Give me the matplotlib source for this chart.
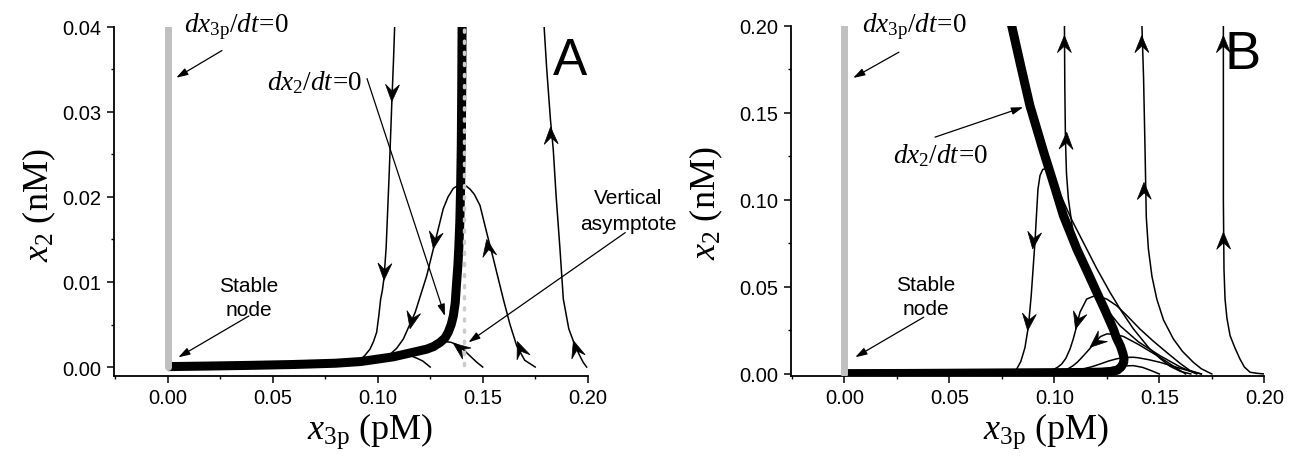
import numpy as np
import matplotlib
matplotlib.use('Agg')
import matplotlib.pyplot as plt
from matplotlib.patches import Polygon
from matplotlib.transforms import IdentityTransform
from matplotlib.ticker import MultipleLocator, FormatStrFormatter

plt.rcParams['font.family'] = ['Liberation Sans', 'DejaVu Sans']
plt.rcParams['mathtext.fontset'] = 'custom'
plt.rcParams['mathtext.rm'] = 'Liberation Serif'
plt.rcParams['mathtext.it'] = 'Liberation Serif:italic'

# ---------------- panel A data (x3p in pM, x2 in nM) ----------------
a_null_x = [0.000, 0.020, 0.040, 0.060, 0.080, 0.092, 0.1074, 0.1233, 0.1265, 0.1297, 0.1320,
            0.1336, 0.1350, 0.1360, 0.1369, 0.1376, 0.1382, 0.1386, 0.1391, 0.1395, 0.1398,
            0.1400, 0.1402]
a_null_y = [0.00005, 0.00012, 0.0002, 0.0003, 0.00045, 0.00065, 0.0012, 0.0021, 0.0024, 0.0029,
            0.0034, 0.0041, 0.0050, 0.0060, 0.0075, 0.0100, 0.0120, 0.0139, 0.0170, 0.0213,
            0.0260, 0.0320, 0.0410]
a_asym_x = 0.1411

a_traj = [
    ([0.1082, 0.1075, 0.1067, 0.1055, 0.1040, 0.1030, 0.1022, 0.1014, 0.1005, 0.0995, 0.0980,
      0.0963, 0.0940, 0.0916],
     [0.0410, 0.0360, 0.0310, 0.0230, 0.0140, 0.0105, 0.0090, 0.0080, 0.0060, 0.0041, 0.0030,
      0.0021, 0.0014, 0.0008]),
    ([0.1750, 0.1700, 0.1662, 0.1630, 0.1598, 0.1551, 0.1519, 0.1487, 0.1460, 0.1440, 0.1420,
      0.1400, 0.1380, 0.1360, 0.1335, 0.1312, 0.1273, 0.1233, 0.1178, 0.1122, 0.1090, 0.1059,
      0.1027],
     [0.0000, 0.0008, 0.0025, 0.0050, 0.0080, 0.0127, 0.0158, 0.0190, 0.0203, 0.0209, 0.0213,
      0.0214, 0.0213, 0.0210, 0.0200, 0.0186, 0.0147, 0.0107, 0.0064, 0.0033, 0.0022, 0.0015,
      0.0011]),
    ([0.125, 0.1235, 0.1215, 0.119, 0.116],
     [0.0, 0.0003, 0.0007, 0.0010, 0.0013]),
    ([0.150, 0.1470, 0.1440, 0.1410, 0.1380, 0.1350, 0.1320, 0.1290, 0.1260, 0.1230, 0.1190,
      0.1150],
     [0.0, 0.0006, 0.0013, 0.0020, 0.0026, 0.0029, 0.0030, 0.0029, 0.0026, 0.0022, 0.0018,
      0.0015]),
    ([0.1995, 0.1980, 0.1965, 0.1940, 0.1910, 0.1884, 0.1868, 0.1850, 0.1836, 0.1823, 0.1805,
      0.1790],
     [0.0, 0.0005, 0.0012, 0.0025, 0.0045, 0.0080, 0.0139, 0.0200, 0.0256, 0.0290, 0.0350,
      0.0410]),
]
# arrow heads: (tip x, tip y, from x, from y)
a_arrows = [
    (0.1067, 0.0312, 0.1075, 0.0360),
    (0.1030, 0.0102, 0.1040, 0.0150),
    (0.1265, 0.0139, 0.1290, 0.0175),
    (0.1154, 0.0045, 0.1190, 0.0085),
    (0.1519, 0.0150, 0.1545, 0.0115),
    (0.1665, 0.0030, 0.1700, 0.0008),
    (0.1360, 0.0028, 0.1450, 0.0011),
    (0.1932, 0.0031, 0.1965, 0.0005),
    (0.1823, 0.0282, 0.1830, 0.0240),
]

# ---------------- panel B data ----------------
b_null_x = [0.000, 0.030, 0.060, 0.0741, 0.090, 0.105, 0.1160, 0.1235, 0.1265, 0.1300, 0.1318,
            0.1330, 0.1332, 0.1326, 0.1315, 0.1295, 0.1281, 0.1240, 0.1202, 0.1160, 0.1107,
            0.1043, 0.1000, 0.0948, 0.0884, 0.0840, 0.0797, 0.0785]
b_null_y = [0.0002, 0.0003, 0.0005, 0.0006, 0.0007, 0.0008, 0.0009, 0.0011, 0.0013, 0.0022, 0.0040,
            0.0065, 0.0090, 0.0120, 0.0160, 0.0210, 0.0258, 0.0370, 0.0469, 0.0580, 0.0718,
            0.0910, 0.1080, 0.1280, 0.1540, 0.1770, 0.2000, 0.2060]

b_traj = [
    ([0.1650, 0.1600, 0.1550, 0.1503, 0.1450, 0.1376, 0.1320, 0.1265, 0.1200, 0.1138, 0.1085,
      0.1040, 0.1005, 0.0978, 0.0960, 0.0945, 0.0932, 0.0922, 0.0908, 0.0890, 0.0877, 0.0860,
      0.0840, 0.0821, 0.0800],
     [0.0000, 0.0015, 0.0045, 0.0090, 0.0150, 0.0260, 0.0360, 0.0469, 0.0610, 0.0756, 0.0880,
      0.1000, 0.1090, 0.1150, 0.1178, 0.1175, 0.1140, 0.1060, 0.0760, 0.0450, 0.0277, 0.0150,
      0.0070, 0.0029, 0.0006]),
    ([0.1678, 0.1600, 0.1503, 0.1400, 0.1313, 0.1250, 0.1186, 0.1140, 0.1107, 0.1085, 0.1067,
      0.1058, 0.1053, 0.1050, 0.1048],
     [0.0, 0.0040, 0.0105, 0.0185, 0.0277, 0.0370, 0.0488, 0.0600, 0.0718, 0.0850, 0.1005,
      0.1150, 0.1350, 0.1650, 0.2050]),
    ([0.1750, 0.1700, 0.1662, 0.1610, 0.1567, 0.1520, 0.1488, 0.1465, 0.1448, 0.1438, 0.1432,
      0.1425, 0.1416],
     [0.0, 0.0030, 0.0067, 0.0130, 0.0201, 0.0310, 0.0430, 0.0560, 0.0718, 0.0900, 0.1290,
      0.1700, 0.2050]),
    ([0.2000, 0.1965, 0.1932, 0.1905, 0.1884, 0.1860, 0.1837, 0.1822, 0.1813, 0.1808, 0.1805,
      0.1805],
     [0.0, 0.0004, 0.0010, 0.0040, 0.0086, 0.0150, 0.0220, 0.0320, 0.0430, 0.0600, 0.1000,
      0.2050]),
    ([0.1700, 0.1646, 0.1600, 0.1535, 0.1470, 0.1408, 0.1350, 0.1297, 0.1250, 0.1215, 0.1186,
      0.1154, 0.1122, 0.1107, 0.1090, 0.1075, 0.1055, 0.1035, 0.1015, 0.0995, 0.0970, 0.0948],
     [0.0, 0.0020, 0.0060, 0.0124, 0.0190, 0.0258, 0.0330, 0.0392, 0.0430, 0.0445, 0.0446,
      0.0430, 0.0354, 0.0277, 0.0200, 0.0144, 0.0090, 0.0057, 0.0038, 0.0025, 0.0017, 0.0013]),
    ([0.1625, 0.1580, 0.1500, 0.1400, 0.1330, 0.1290, 0.1250, 0.1220, 0.1194, 0.1165, 0.1139,
      0.1110, 0.1090, 0.1059, 0.1030, 0.1011],
     [0.0, 0.0035, 0.0098, 0.0170, 0.0215, 0.0228, 0.0230, 0.0215, 0.0182, 0.0140, 0.0105,
      0.0068, 0.0048, 0.0025, 0.0016, 0.0013]),
    ([0.1700, 0.1650, 0.1600, 0.1550, 0.1503, 0.1450, 0.1400, 0.1376, 0.1340, 0.1300, 0.1260,
      0.1220, 0.1180, 0.1140, 0.1100, 0.1075],
     [0.0, 0.0015, 0.0032, 0.0050, 0.0067, 0.0082, 0.0093, 0.0096, 0.0095, 0.0088, 0.0075,
      0.0058, 0.0042, 0.0030, 0.0022, 0.0019]),
    ([0.1500, 0.1460, 0.1420, 0.1376, 0.1330, 0.1280, 0.1218, 0.1160],
     [0.0, 0.0020, 0.0038, 0.0048, 0.0046, 0.0038, 0.0029, 0.0022]),
]
b_arrows = [
    (0.0897, 0.0718, 0.0915, 0.0900),
    (0.0873, 0.0249, 0.0890, 0.0450),
    (0.1101, 0.0258, 0.1125, 0.0360),
    (0.1170, 0.0153, 0.1220, 0.0205),
    (0.1059, 0.1388, 0.1053, 0.1200),
    (0.1048, 0.1943, 0.1048, 0.1700),
    (0.1427, 0.1100, 0.1430, 0.0900),
    (0.1416, 0.1943, 0.1418, 0.1700),
    (0.1805, 0.0814, 0.1808, 0.0600),
    (0.1805, 0.1943, 0.1805, 0.1700),
]

# annotation texts and pointer arrows (text pos, arrow tail, arrow tip)
a_notes = {
    'x3p': ((0.0078, 0.0395), (0.0258, 0.0372), (0.0040, 0.0340)),
    'x2': ((0.0473, 0.0327), (0.0949, 0.0339), (0.1320, 0.0060)),
    'node': ((0.0386, 0.0082), (0.0386, 0.0060), (0.0050, 0.00114)),
    'asym': ((0.2192, 0.0184), (0.2179, 0.0158), (0.1432, 0.0029)),
}
b_notes = {
    'x3p': ((0.0082, 0.1970), (0.0260, 0.1848), (0.0042, 0.1700)),
    'x2': ((0.0230, 0.1216), (0.0432, 0.1360), (0.0852, 0.1532)),
    'node': ((0.0388, 0.0445), (0.0378, 0.0326), (0.0052, 0.0096)),
}
panel_letters = [('A', 0.1916, 0.0360, 37), ('B', 0.1896, 0.1838, 39)]


def arrowhead(ax, tx, ty, fx, fy, L=17.0, W=7.0):
    p1 = ax.transData.transform((tx, ty))
    p0 = ax.transData.transform((fx, fy))
    u = (p1 - p0) / np.hypot(*(p1 - p0))
    n = np.array([-u[1], u[0]])
    pts = [p1, p1 - L * u + W * n, p1 - 0.62 * L * u, p1 - L * u - W * n]
    ax.add_patch(Polygon(pts, closed=True, facecolor='k', edgecolor='k', lw=0.5,
                         transform=IdentityTransform(), zorder=5))


def pointer(ax, tail, tip):
    ax.annotate('', xy=tip, xytext=tail, annotation_clip=False,
                arrowprops=dict(arrowstyle='-|>,head_length=0.7,head_width=0.22',
                                color='k', lw=0.9, shrinkA=0, shrinkB=0), zorder=6)


def style_axes(ax, ymaj, ymin):
    for s in ['top', 'right']:
        ax.spines[s].set_visible(False)
    for s in ['left', 'bottom']:
        ax.spines[s].set_linewidth(1.3)
    ax.xaxis.set_major_locator(MultipleLocator(0.05))
    ax.xaxis.set_minor_locator(MultipleLocator(0.025))
    ax.yaxis.set_major_locator(MultipleLocator(ymaj))
    ax.yaxis.set_minor_locator(MultipleLocator(ymin))
    ax.xaxis.set_major_formatter(FormatStrFormatter('%.2f'))
    ax.yaxis.set_major_formatter(FormatStrFormatter('%.2f'))
    ax.tick_params(which='major', length=5, width=1.1, labelsize=14.5, pad=4)
    ax.tick_params(which='minor', length=2.5, width=1.0)
    ax.set_xlabel(r'$x_{\rm 3p}$ (pM)', fontsize=26, family='Liberation Serif')
    ax.set_ylabel(r'$x_2$ (nM)', fontsize=26, family='Liberation Serif')


fig = plt.figure(figsize=(12.99, 4.64), dpi=100)
axA = fig.add_axes([0.0878, 0.1881, 0.3646, 0.7522])
axB = fig.add_axes([0.6089, 0.1881, 0.3644, 0.7544])

axA.set_xlim(-0.0256, 0.2)
axA.set_ylim(-0.00102, 0.04)
axB.set_xlim(-0.0254, 0.2)
axB.set_ylim(-0.001, 0.2)
style_axes(axA, 0.01, 0.005)
style_axes(axB, 0.05, 0.025)
axA.xaxis.set_label_coords(0.54, -0.10)
axB.xaxis.set_label_coords(0.54, -0.10)
axA.yaxis.set_label_coords(-0.118, 0.49)
axB.yaxis.set_label_coords(-0.140, 0.496)

for ax, trajs, nx, ny, ytop in [(axA, a_traj, a_null_x, a_null_y, 0.04),
                                (axB, b_traj, b_null_x, b_null_y, 0.2)]:
    for tx, ty in trajs:
        ax.plot(tx, ty, color='k', lw=1.1, zorder=2)
    ax.plot(nx, ny, color='k', lw=6.5, solid_joinstyle='round', solid_capstyle='butt', zorder=3)
    ax.plot([0, 0], [0, ytop * 1.05], color='#c0c0c0', lw=5, solid_capstyle='round', zorder=4)

axA.plot([a_asym_x, a_asym_x], [0.0002, 0.04], color='#cccccc', lw=2.5, ls=(0, (0.6, 2.6)),
         dash_capstyle='round', zorder=4)

for ax, arrows in [(axA, a_arrows), (axB, b_arrows)]:
    for tx, ty, fx, fy in arrows:
        arrowhead(ax, tx, ty, fx, fy)

for ax, notes, (letter, lx, ly, lsize) in [(axA, a_notes, panel_letters[0]),
                                           (axB, b_notes, panel_letters[1])]:
    (p, tail, tip) = notes['x3p']
    ax.text(p[0], p[1], r'$dx_{\rm 3p}/dt\!{=}\!0$', fontsize=19.5, ha='left', va='baseline',
            clip_on=False)
    pointer(ax, tail, tip)
    (p, tail, tip) = notes['x2']
    ax.text(p[0], p[1], r'$dx_2/dt\!{=}\!0$', fontsize=19.5, ha='left', va='baseline',
            clip_on=False)
    pointer(ax, tail, tip)
    (p, tail, tip) = notes['node']
    ax.text(p[0], p[1], 'Stable\nnode', fontsize=15, ha='center', va='center', linespacing=1.3)
    pointer(ax, tail, tip)
    ax.text(lx, ly, letter, fontsize=lsize, ha='center', va='center')

(p, tail, tip) = a_notes['asym']
axA.text(p[0], p[1], 'Vertical\nasymptote', fontsize=15, ha='center', va='center',
         linespacing=1.5, clip_on=False)
pointer(axA, tail, tip)

fig.savefig('out.png', dpi=100)
